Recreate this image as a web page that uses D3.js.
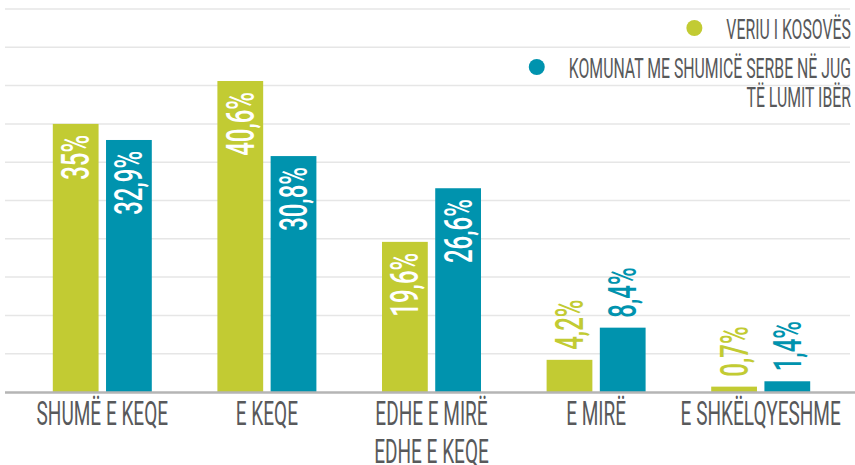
<!DOCTYPE html>
<html>
<head>
<meta charset="utf-8">
<script src="https://cdn.jsdelivr.net/npm/d3@7"></script>
<style>
	body { margin: 0; background: #fff; }
	text { font-family: Roboto, "DejaVu Sans Condensed", sans-serif; }
</style>
</head>
<body>
<div id="chart"></div>
<script>

// chart data
var categories = ['SHUMË E KEQE', 'E KEQE', 'EDHE E MIRË\nEDHE E KEQE', 'E MIRË', 'E SHKËLQYESHME'];
var seriesNames = ['VERIU I KOSOVËS', 'KOMUNAT ME SHUMICË SERBE NË JUG\nTË LUMIT IBËR'];
var veriu = [35, 40.6, 19.6, 4.2, 0.7];
var komunat = [32.9, 30.8, 26.6, 8.4, 1.4];
var valueLabels1 = ['35%', '40,6%', '19,6%', '4,2%', '0,7%'];
var valueLabels2 = ['32,9%', '30,8%', '26,6%', '8,4%', '1,4%'];
var gridTicks = [5, 10, 15, 20, 25, 30, 35, 40, 45, 50];

var colors = ['#c2cb33', '#0093ae'];
var textGray = '#58595b';

var width = 855;
var height = 465;

var svg = d3.select('#chart').append('svg')
	.attr('width', width)
	.attr('height', height);

var y = d3.scaleLinear().domain([0, 50]).range([392, 9]);

var x0 = d3.scaleBand().domain(categories).range([20, 843]).padding(0);
var bw0 = x0.bandwidth();
var x1 = d3.scaleBand().domain([0, 1])
	.range([bw0 / 2 - 49.5, bw0 / 2 + 49.5])
	.paddingInner(0.14).paddingOuter(0);

// gridlines
svg.append('g').selectAll('line')
	.data(gridTicks)
	.enter().append('line')
	.attr('x1', 5).attr('x2', 850)
	.attr('y1', function(d) { return y(d); })
	.attr('y2', function(d) { return y(d); })
	.style('stroke', '#e6e6e6')
	.style('stroke-width', 1.5);

// build rows
var data = categories.map(function(c, i) {
	return {
		cat: c,
		vals: [
			{s: 0, v: veriu[i], label: valueLabels1[i]},
			{s: 1, v: komunat[i], label: valueLabels2[i]}
		]
	};
});

var groups = svg.selectAll('.grp').data(data).enter().append('g')
	.attr('class', 'grp')
	.attr('transform', function(d) { return 'translate(' + x0(d.cat) + ',0)'; });

groups.selectAll('rect').data(function(d) { return d.vals; }).enter().append('rect')
	.attr('x', function(d) { return x1(d.s); })
	.attr('width', x1.bandwidth())
	.attr('y', function(d) { return y(d.v); })
	.attr('height', function(d) { return y(0) - y(d.v); })
	.style('fill', function(d) { return colors[d.s]; });

// value labels, rotated
var valSize = 38, valScale = 0.63;
groups.selectAll('.val').data(function(d) { return d.vals; }).enter().append('text')
	.attr('class', 'val')
	.attr('transform', function(d) {
		var cx = x1(d.s) + x1.bandwidth() / 2;
		var ty = d.v > 10 ? y(d.v) + 11 : y(d.v) - 10;
		return 'translate(' + cx + ',' + ty + ') rotate(-90) scale(' + valScale + ',1)';
	})
	.attr('dy', '0.355em')
	.style('font-size', valSize + 'px')
	.style('font-weight', 500)
	.style('text-anchor', function(d) { return d.v > 10 ? 'end' : 'start'; })
	.style('fill', function(d) { return d.v > 10 ? '#fff' : colors[d.s]; })
	.text(function(d) { return d.label; });

// axis line
svg.append('line')
	.attr('x1', 5).attr('x2', 855)
	.attr('y1', y(0) + 0.5).attr('y2', y(0) + 0.5)
	.style('stroke', '#b5b5b5')
	.style('stroke-width', 2.5);

// category labels
var catSize = 34, catScale = 0.56;
categories.forEach(function(c) {
	var lines = c.split('\n');
	var cx = x0(c) + bw0 / 2;
	lines.forEach(function(line, j) {
		svg.append('text')
			.attr('transform', 'translate(' + cx + ',' + (425 + j * 38) + ') scale(' + catScale + ',1)')
			.style('font-size', catSize + 'px')
			.style('text-anchor', 'middle')
			.style('fill', textGray)
			.text(line);
	});
});

// legend
var legSize = 28, legScale = 0.565;
var legendTop = [39, 78];
seriesNames.forEach(function(name, i) {
	var lines = name.split('\n');
	var firstWidth = 0;
	lines.forEach(function(line, j) {
		var t = svg.append('text')
			.attr('transform', 'translate(851,' + (legendTop[i] + j * 29) + ') scale(' + legScale + ',1)')
			.style('font-size', legSize + 'px')
			.style('text-anchor', 'end')
			.style('fill', textGray)
			.text(line);
		if (j === 0) firstWidth = t.node().getComputedTextLength() * legScale;
	});
	svg.append('circle')
		.attr('cx', 851 - firstWidth - 32)
		.attr('cy', legendTop[i] - 11)
		.attr('r', 8)
		.style('fill', colors[i]);
});

</script>
</body>
</html>
